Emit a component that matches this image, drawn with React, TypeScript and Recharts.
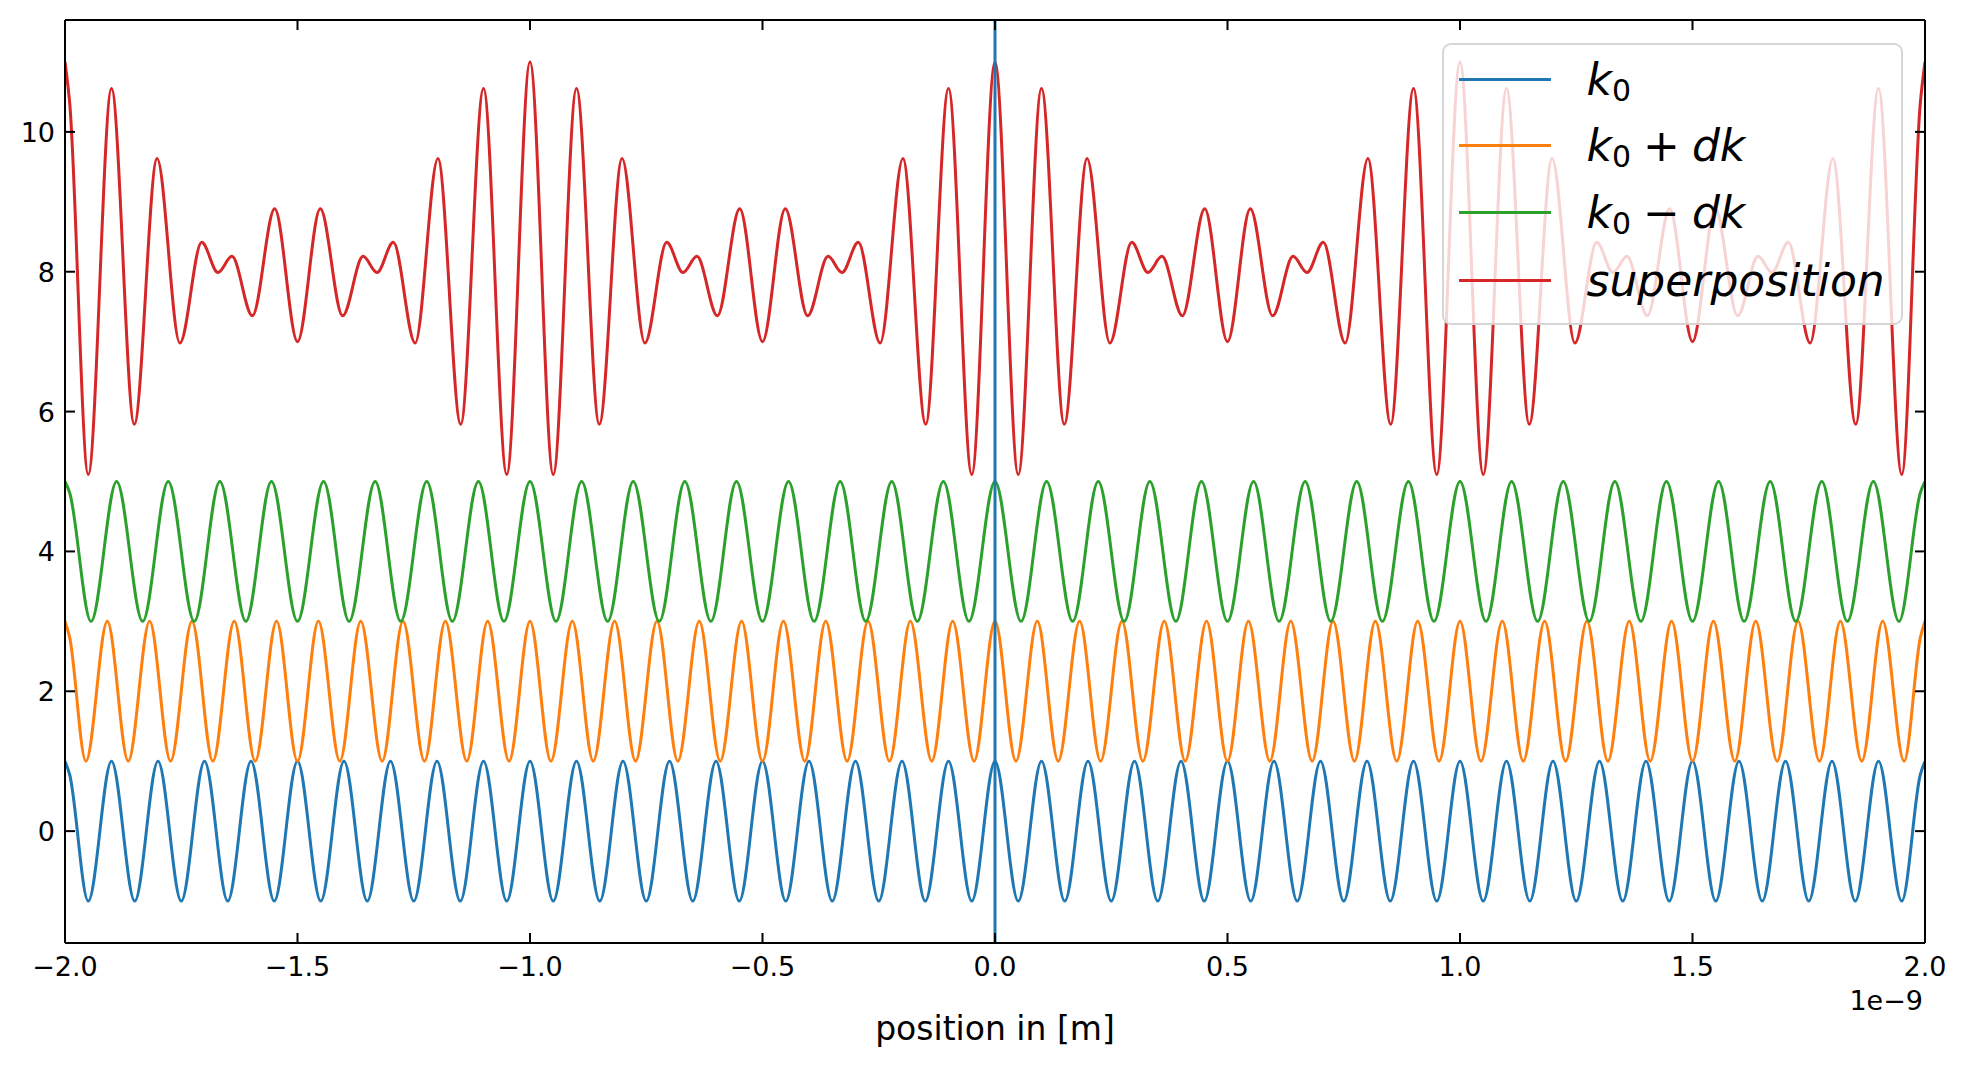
import React from 'react';
import { LineChart, Line, XAxis, YAxis, ReferenceLine, Legend, Label } from 'recharts';

const FONT = '"DejaVu Sans", "Liberation Sans", sans-serif';

// x values are in units of 1e-9 m (the axis carries the "1e−9" offset)
const X_TICKS = [-2, -1.5, -1, -0.5, 0, 0.5, 1, 1.5, 2];
const Y_TICKS = [0, 2, 4, 6, 8, 10];
const ORIGIN_X = 0;

// crests / troughs, one row per 0.5 or 1 unit of x
const K0_X = [
  -2, -1.99, -1.95, -1.9, -1.85, -1.8, -1.75, -1.7, -1.65, -1.6, -1.55,
  -1.5, -1.45, -1.4, -1.35, -1.3, -1.25, -1.2, -1.15, -1.1, -1.05,
  -1, -0.95, -0.9, -0.85, -0.8, -0.75, -0.7, -0.65, -0.6, -0.55,
  -0.5, -0.45, -0.4, -0.35, -0.3, -0.25, -0.2, -0.15, -0.1, -0.05,
  0, 0.05, 0.1, 0.15, 0.2, 0.25, 0.3, 0.35, 0.4, 0.45,
  0.5, 0.55, 0.6, 0.65, 0.7, 0.75, 0.8, 0.85, 0.9, 0.95,
  1, 1.05, 1.1, 1.15, 1.2, 1.25, 1.3, 1.35, 1.4, 1.45,
  1.5, 1.55, 1.6, 1.65, 1.7, 1.75, 1.8, 1.85, 1.9, 1.95,
  1.99, 2,
];
const K0_Y = [
  1, 0.81, -1, 1, -1, 1, -1, 1, -1, 1, -1,
  1, -1, 1, -1, 1, -1, 1, -1, 1, -1,
  1, -1, 1, -1, 1, -1, 1, -1, 1, -1,
  1, -1, 1, -1, 1, -1, 1, -1, 1, -1,
  1, -1, 1, -1, 1, -1, 1, -1, 1, -1,
  1, -1, 1, -1, 1, -1, 1, -1, 1, -1,
  1, -1, 1, -1, 1, -1, 1, -1, 1, -1,
  1, -1, 1, -1, 1, -1, 1, -1, 1, -1,
  0.81, 1,
];

const K0P_X = [
  -2, -1.99, -1.955, -1.909, -1.864, -1.818, -1.773, -1.727, -1.682, -1.636, -1.591, -1.545,
  -1.5, -1.455, -1.409, -1.364, -1.318, -1.273, -1.227, -1.182, -1.136, -1.091, -1.045,
  -1, -0.955, -0.909, -0.864, -0.818, -0.773, -0.727, -0.682, -0.636, -0.591, -0.545,
  -0.5, -0.455, -0.409, -0.364, -0.318, -0.273, -0.227, -0.182, -0.136, -0.091, -0.045,
  0, 0.045, 0.091, 0.136, 0.182, 0.227, 0.273, 0.318, 0.364, 0.409, 0.455,
  0.5, 0.545, 0.591, 0.636, 0.682, 0.727, 0.773, 0.818, 0.864, 0.909, 0.955,
  1, 1.045, 1.091, 1.136, 1.182, 1.227, 1.273, 1.318, 1.364, 1.409, 1.455,
  1.5, 1.545, 1.591, 1.636, 1.682, 1.727, 1.773, 1.818, 1.864, 1.909, 1.955,
  1.99, 2,
];
const K0P_Y = [
  3, 2.77, 1, 3, 1, 3, 1, 3, 1, 3, 1, 3,
  1, 3, 1, 3, 1, 3, 1, 3, 1, 3, 1,
  3, 1, 3, 1, 3, 1, 3, 1, 3, 1, 3,
  1, 3, 1, 3, 1, 3, 1, 3, 1, 3, 1,
  3, 1, 3, 1, 3, 1, 3, 1, 3, 1, 3,
  1, 3, 1, 3, 1, 3, 1, 3, 1, 3, 1,
  3, 1, 3, 1, 3, 1, 3, 1, 3, 1, 3,
  1, 3, 1, 3, 1, 3, 1, 3, 1, 3, 1,
  2.77, 3,
];

const K0M_X = [
  -2, -1.99, -1.944, -1.889, -1.833, -1.778, -1.722, -1.667, -1.611, -1.556,
  -1.5, -1.444, -1.389, -1.333, -1.278, -1.222, -1.167, -1.111, -1.056,
  -1, -0.944, -0.889, -0.833, -0.778, -0.722, -0.667, -0.611, -0.556,
  -0.5, -0.444, -0.389, -0.333, -0.278, -0.222, -0.167, -0.111, -0.056,
  0, 0.056, 0.111, 0.167, 0.222, 0.278, 0.333, 0.389, 0.444,
  0.5, 0.556, 0.611, 0.667, 0.722, 0.778, 0.833, 0.889, 0.944,
  1, 1.056, 1.111, 1.167, 1.222, 1.278, 1.333, 1.389, 1.444,
  1.5, 1.556, 1.611, 1.667, 1.722, 1.778, 1.833, 1.889, 1.944,
  1.99, 2,
];
const K0M_Y = [
  5, 4.84, 3, 5, 3, 5, 3, 5, 3, 5,
  3, 5, 3, 5, 3, 5, 3, 5, 3,
  5, 3, 5, 3, 5, 3, 5, 3, 5,
  3, 5, 3, 5, 3, 5, 3, 5, 3,
  5, 3, 5, 3, 5, 3, 5, 3, 5,
  3, 5, 3, 5, 3, 5, 3, 5, 3,
  5, 3, 5, 3, 5, 3, 5, 3, 5,
  3, 5, 3, 5, 3, 5, 3, 5, 3,
  4.84, 5,
];

const SUP_X = [
  -2, -1.99, -1.95, -1.9, -1.851, -1.802, -1.753, -1.706, -1.671, -1.641, -1.597, -1.549,
  -1.5, -1.451, -1.403, -1.359, -1.329, -1.294, -1.247, -1.198, -1.149, -1.1, -1.05,
  -1, -0.95, -0.9, -0.851, -0.802, -0.753, -0.706, -0.671, -0.641, -0.597, -0.549,
  -0.5, -0.451, -0.403, -0.359, -0.329, -0.294, -0.247, -0.198, -0.149, -0.1, -0.05,
  0, 0.05, 0.1, 0.149, 0.198, 0.247, 0.294, 0.329, 0.359, 0.403, 0.451,
  0.5, 0.549, 0.597, 0.641, 0.671, 0.706, 0.753, 0.802, 0.851, 0.9, 0.95,
  1, 1.05, 1.1, 1.149, 1.198, 1.247, 1.294, 1.329, 1.359, 1.403, 1.451,
  1.5, 1.549, 1.597, 1.641, 1.671, 1.706, 1.753, 1.802, 1.851, 1.9, 1.95,
  1.99, 2,
];
const SUP_Y = [
  11, 10.42, 5.1, 10.62, 5.82, 9.62, 6.98, 8.42, 7.99, 8.22, 7.37, 8.9,
  7, 8.9, 7.37, 8.22, 7.99, 8.42, 6.98, 9.62, 5.82, 10.62, 5.1,
  11, 5.1, 10.62, 5.82, 9.62, 6.98, 8.42, 7.99, 8.22, 7.37, 8.9,
  7, 8.9, 7.37, 8.22, 7.99, 8.42, 6.98, 9.62, 5.82, 10.62, 5.1,
  11, 5.1, 10.62, 5.82, 9.62, 6.98, 8.42, 7.99, 8.22, 7.37, 8.9,
  7, 8.9, 7.37, 8.22, 7.99, 8.42, 6.98, 9.62, 5.82, 10.62, 5.1,
  11, 5.1, 10.62, 5.82, 9.62, 6.98, 8.42, 7.99, 8.22, 7.37, 8.9,
  7, 8.9, 7.37, 8.22, 7.99, 8.42, 6.98, 9.62, 5.82, 10.62, 5.1,
  10.42, 11,
];

const toPoints = (xs: number[], ys: number[]) => xs.map((x, i) => ({ x, y: ys[i] }));

const k0Data = toPoints(K0_X, K0_Y);
const k0PlusData = toPoints(K0P_X, K0P_Y);
const k0MinusData = toPoints(K0M_X, K0M_Y);
const supData = toPoints(SUP_X, SUP_Y);

const fmtX = (v: number) => v.toFixed(1).replace('-', '\u2212');

const AXIS_LINE = { stroke: '#000', strokeWidth: 2 };
const TICK_LEN = 10;

// ticks point inward, as in the matplotlib original
function BottomTick({ x, y, payload }: any) {
  return (
    <g>
      <line x1={x} x2={x} y1={y} y2={y - TICK_LEN} stroke="#000" strokeWidth={2} />
      <text x={x} y={y + 33} textAnchor="middle" fontSize={27} fontFamily={FONT} fill="#000">
        {fmtX(payload.value)}
      </text>
    </g>
  );
}

function TopTick({ x, y }: any) {
  return <line x1={x} x2={x} y1={y} y2={y + TICK_LEN} stroke="#000" strokeWidth={2} />;
}

function LeftTick({ x, y, payload }: any) {
  return (
    <g>
      <line x1={x} x2={x + TICK_LEN} y1={y} y2={y} stroke="#000" strokeWidth={2} />
      <text x={x - 10} y={y + 10} textAnchor="end" fontSize={27} fontFamily={FONT} fill="#000">
        {String(payload.value)}
      </text>
    </g>
  );
}

function RightTick({ x, y }: any) {
  return <line x1={x} x2={x - TICK_LEN} y1={y} y2={y} stroke="#000" strokeWidth={2} />;
}

function MathName({ name }: { name: string }) {
  if (name === 'superposition') return <i>superposition</i>;
  const op = name === 'k0+dk' ? '+' : name === 'k0-dk' ? '\u2212' : null;
  return (
    <span>
      <i>k</i>
      <span style={{ fontSize: '0.68em', position: 'relative', top: 6 }}>0</span>
      {op && (
        <>
          <span style={{ margin: '0 12px' }}>{op}</span>
          <i>dk</i>
        </>
      )}
    </span>
  );
}

function LegendBox({ payload }: any) {
  const rowCenters = [37, 103, 170, 238];
  return (
    <div
      style={{
        position: 'relative',
        width: 461,
        height: 282,
        boxSizing: 'border-box',
        border: '2.5px solid rgba(204,204,204,0.8)',
        borderRadius: 9,
        background: 'rgba(255,255,255,0.8)',
        fontFamily: FONT,
        fontSize: 44,
        color: '#000',
      }}
    >
      {(payload || []).map((entry: any, i: number) => (
        <div
          key={entry.value}
          style={{
            position: 'absolute',
            left: 0,
            top: rowCenters[i] - 33 - 2.5,
            height: 66,
            display: 'flex',
            alignItems: 'center',
            whiteSpace: 'nowrap',
          }}
        >
          <div style={{ marginLeft: 14.5, width: 92, height: 3, background: entry.color }} />
          <div style={{ marginLeft: 36, lineHeight: 1 }}>
            <MathName name={entry.value} />
          </div>
        </div>
      ))}
    </div>
  );
}

export default function App() {
  return (
    <div style={{ position: 'absolute', left: 0, top: 0, width: 1967, height: 1068, background: '#fff' }}>
      <LineChart width={1967} height={1068} margin={{ top: 19, right: 41, bottom: 0, left: 0 }}>
        <XAxis
          type="number"
          dataKey="x"
          domain={[-2, 2]}
          ticks={X_TICKS}
          interval={0}
          allowDataOverflow
          height={125}
          tickSize={0}
          tickMargin={0}
          tickLine={false}
          axisLine={AXIS_LINE}
          tick={(p: any) => <BottomTick {...p} />}
        >
          <Label
            content={(p: any) => {
              const vb = p.viewBox || { x: 65, y: 943, width: 1860, height: 125 };
              return (
                <text x={vb.x + vb.width / 2} y={vb.y + 97} textAnchor="middle" fontSize={33} fontFamily={FONT} fill="#000">
                  position in [m]
                </text>
              );
            }}
          />
          <Label
            content={(p: any) => {
              const vb = p.viewBox || { x: 65, y: 943, width: 1860, height: 125 };
              return (
                <text x={vb.x + vb.width - 2} y={vb.y + 67} textAnchor="end" fontSize={27} fontFamily={FONT} fill="#000">
                  1e{'\u2212'}9
                </text>
              );
            }}
          />
        </XAxis>
        <XAxis
          xAxisId="top"
          orientation="top"
          type="number"
          dataKey="x"
          domain={[-2, 2]}
          ticks={X_TICKS}
          interval={0}
          allowDataOverflow
          height={1}
          tickSize={0}
          tickMargin={0}
          tickLine={false}
          axisLine={AXIS_LINE}
          tick={(p: any) => <TopTick {...p} />}
        />
        <YAxis
          type="number"
          domain={[-1.6, 11.6]}
          ticks={Y_TICKS}
          interval={0}
          allowDataOverflow
          width={65}
          tickSize={0}
          tickMargin={0}
          tickLine={false}
          axisLine={AXIS_LINE}
          tick={(p: any) => <LeftTick {...p} />}
        />
        <YAxis
          yAxisId="right"
          orientation="right"
          type="number"
          domain={[-1.6, 11.6]}
          ticks={Y_TICKS}
          interval={0}
          allowDataOverflow
          width={1}
          tickSize={0}
          tickMargin={0}
          tickLine={false}
          axisLine={AXIS_LINE}
          tick={(p: any) => <RightTick {...p} />}
        />
        <Line data={k0Data} name="k0" type="monotone" dataKey="y" stroke="#1f77b4" strokeWidth={3} dot={false} activeDot={false} isAnimationActive={false} />
        <Line data={k0PlusData} name="k0+dk" type="monotone" dataKey="y" stroke="#ff7f0e" strokeWidth={3} dot={false} activeDot={false} isAnimationActive={false} />
        <Line data={k0MinusData} name="k0-dk" type="monotone" dataKey="y" stroke="#2ca02c" strokeWidth={3} dot={false} activeDot={false} isAnimationActive={false} />
        <Line data={supData} name="superposition" type="monotone" dataKey="y" stroke="#d62728" strokeWidth={3} dot={false} activeDot={false} isAnimationActive={false} />
        <ReferenceLine x={ORIGIN_X} stroke="#1f77b4" strokeWidth={3} />
        <Legend
          layout="vertical"
          align="center"
          verticalAlign="middle"
          wrapperStyle={{ left: 1442, top: 43, width: 'auto' }}
          content={(p: any) => <LegendBox {...p} />}
        />
      </LineChart>
    </div>
  );
}
